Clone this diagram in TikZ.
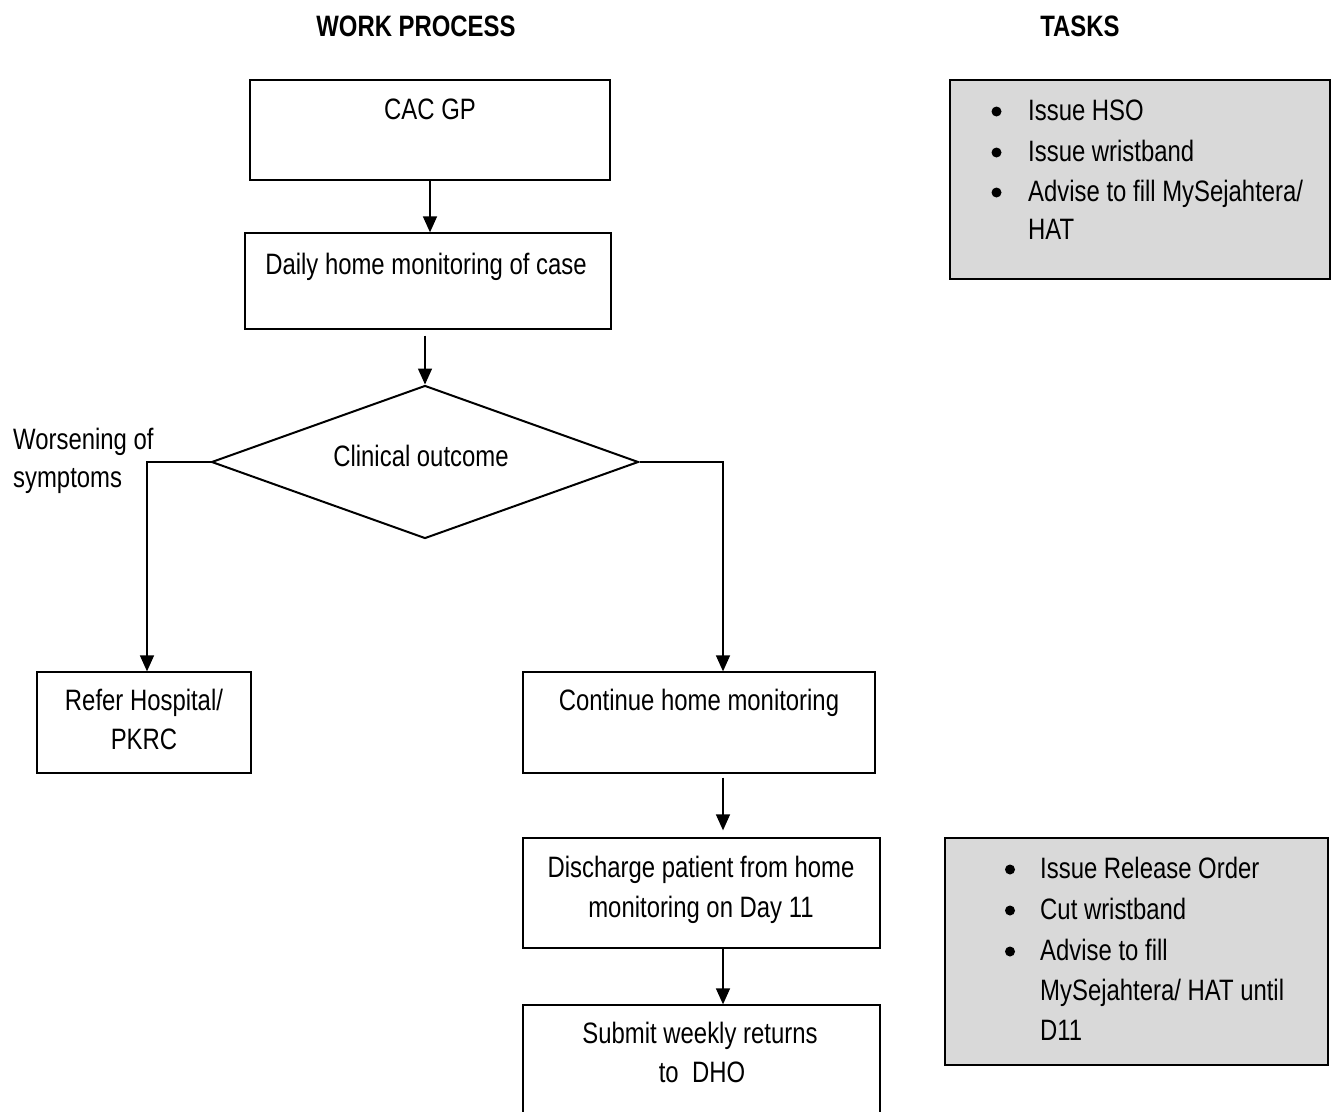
\documentclass[tikz,border=0pt]{standalone}
\usepackage{fontspec}
\setmainfont[FakeStretch=0.81]{Liberation Sans}
\usetikzlibrary{shapes.geometric,arrows.meta}
\definecolor{taskgray}{HTML}{D9D9D9}
\begin{document}
\begin{tikzpicture}[x=1pt,y=-1pt,
  box/.style={draw, line width=1.3pt, inner sep=0pt, rectangle},
  taskbox/.style={draw, line width=1.3pt, fill=taskgray, inner sep=0pt, rectangle},
  decision/.style={draw, line width=2pt, diamond, inner sep=0pt},
  txt/.style={anchor=base, inner sep=0pt, font=\fontsize{29.5}{35}\selectfont},
  ltxt/.style={anchor=base west, inner sep=0pt, font=\fontsize{29.5}{35}\selectfont},
  dot/.style={circle, fill, inner sep=0pt, minimum size=10pt},
  arr/.style={line width=1.5pt, -{Triangle[length=16pt,width=14pt]}},
  link/.style={line width=1.5pt}]
\useasboundingbox (0,0) rectangle (1338,1111);

% column headings
\node[txt] (hwork) at (416,36) {\bfseries WORK PROCESS};
\node[txt] (htask) at (1080,36) {\bfseries TASKS};

% process boxes
\node[box, minimum width=360pt, minimum height=100pt] (cac) at (430,130) {};
\node[box, minimum width=366pt, minimum height=96pt] (daily) at (428,281) {};
\node[decision, minimum width=427pt, minimum height=153pt] (dec) at (425,462) {};
\node[box, minimum width=214pt, minimum height=101pt] (refer) at (144,722.5) {};
\node[box, minimum width=352pt, minimum height=101pt] (cont) at (699,722.5) {};
\node[box, minimum width=357pt, minimum height=110pt] (disch) at (701.5,893) {};
\node[box, minimum width=357pt, minimum height=115pt] (sub) at (701.5,1062.5) {};

% process texts
\node[txt] (tcac) at (430,119) {CAC GP};
\node[txt] (tdaily) at (426,274) {Daily home monitoring of case};
\node[txt] (tdec) at (421,466) {Clinical outcome};
\node[ltxt] (tw1) at (13,449) {Worsening of};
\node[ltxt] (tw2) at (13,487) {symptoms};
\node[txt] (tref1) at (144,710) {Refer Hospital/};
\node[txt] (tref2) at (144,749) {PKRC};
\node[txt] (tcont) at (699,710) {Continue home monitoring};
\node[txt] (tdis1) at (701,877) {Discharge patient from home};
\node[txt] (tdis2) at (701,917) {monitoring on Day 11};
\node[txt] (tsub1) at (700,1043) {Submit weekly returns};
\node[txt] (tsub2) at (702,1082) {to\ \ DHO};

% connectors
\draw[arr] (cac.south) -- (cac.south |- daily.north);
\draw[arr] ([yshift=-6pt]daily.south -| dec.north) -- (dec.north);
\draw[arr] (dec.west) -| ([xshift=3pt]refer.north);
\draw[arr] (dec.east) -| ([xshift=24pt]cont.north);
\draw[arr] ([xshift=24pt,yshift=-4pt]cont.south) -- ([xshift=21.5pt,yshift=7pt]disch.north);
\draw[arr] ([xshift=21.5pt]disch.south) -- ([xshift=21.5pt]sub.north);

% task boxes
\node[taskbox, minimum width=380pt, minimum height=199pt] (task1) at (1140,179.5) {};
\node[dot] (b11) at (996.5,111.5) {};
\node[dot] (b12) at (996.5,152.5) {};
\node[dot] (b13) at (996.5,192.5) {};
\node[ltxt] (k11) at (1028,120) {Issue HSO};
\node[ltxt] (k12) at (1028,161) {Issue wristband};
\node[ltxt] (k13) at (1028,201) {Advise to fill MySejahtera/};
\node[ltxt] (k14) at (1028,239) {HAT};

\node[taskbox, minimum width=383pt, minimum height=227pt] (task2) at (1136.5,951.5) {};
\node[dot] (b21) at (1010,869.5) {};
\node[dot] (b22) at (1010,910.5) {};
\node[dot] (b23) at (1010,951.5) {};
\node[ltxt] (k21) at (1040,878) {Issue Release Order};
\node[ltxt] (k22) at (1040,919) {Cut wristband};
\node[ltxt] (k23) at (1040,960) {Advise to fill};
\node[ltxt] (k24) at (1040,1000) {MySejahtera/ HAT until};
\node[ltxt] (k25) at (1040,1040) {D11};
\end{tikzpicture}
\end{document}
